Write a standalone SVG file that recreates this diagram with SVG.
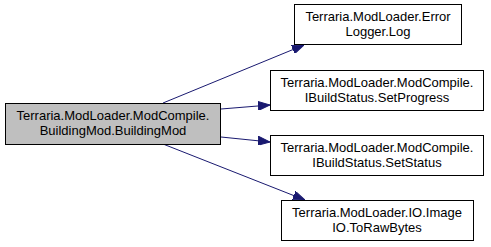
<svg xmlns="http://www.w3.org/2000/svg" width="491" height="247" viewBox="0 0 491 247">
<style>
  .node rect { fill: #ffffff; stroke: #000000; stroke-width: 1; }
  .node.cur rect { fill: #bfbfbf; stroke: #000000; }
  .node text { font-family: "Liberation Sans", Arial, Helvetica, sans-serif; font-size: 13px; fill: #000000; text-anchor: middle; }
  .edge { stroke: #191970; stroke-width: 1; fill: none; }
</style>
<defs>
  <marker id="arrow" viewBox="0 0 12 9" refX="12" refY="4.5" markerWidth="12" markerHeight="9" markerUnits="userSpaceOnUse" orient="auto">
    <path d="M0,0 L12,4.5 L0,9 Z" fill="#191970" stroke="#191970"/>
  </marker>
</defs>
<rect width="491" height="247" fill="#ffffff"/>

<!-- call edges from BuildingMod to its callees -->
<g id="connectors">
  <path class="edge" d="M163,103 L304,45" marker-end="url(#arrow)"/>
  <path class="edge" d="M221,109 L270,105" marker-end="url(#arrow)"/>
  <path class="edge" d="M221,137 L270,142" marker-end="url(#arrow)"/>
  <path class="edge" d="M163,144 L305,200" marker-end="url(#arrow)"/>
</g>

<g id="node-buildingmod" class="node cur">
  <rect x="5.5" y="103.5" width="215" height="41"/>
  <text x="113" y="120">Terraria.ModLoader.ModCompile.</text>
  <text x="113" y="135">BuildingMod.BuildingMod</text>
</g>

<g id="node-errorlogger-log" class="node">
  <rect x="294.5" y="4.5" width="167" height="40"/>
  <text x="378" y="20.5">Terraria.ModLoader.Error</text>
  <text x="378" y="35.5">Logger.Log</text>
</g>

<g id="node-setprogress" class="node">
  <rect x="270.5" y="70.5" width="213" height="40"/>
  <text x="377" y="86.5">Terraria.ModLoader.ModCompile.</text>
  <text x="377" y="101.5">IBuildStatus.SetProgress</text>
</g>

<g id="node-setstatus" class="node">
  <rect x="270.5" y="135.5" width="213" height="40"/>
  <text x="377" y="151.5">Terraria.ModLoader.ModCompile.</text>
  <text x="377" y="166.5">IBuildStatus.SetStatus</text>
</g>

<g id="node-imageio-torawbytes" class="node">
  <rect x="281.5" y="200.5" width="192" height="40"/>
  <text x="377" y="216.5">Terraria.ModLoader.IO.Image</text>
  <text x="377" y="231.5">IO.ToRawBytes</text>
</g>
</svg>
